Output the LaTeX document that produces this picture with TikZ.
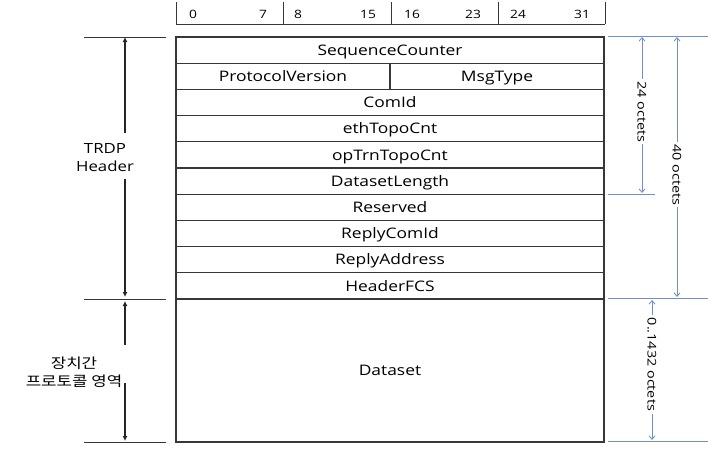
\documentclass[tikz,border=0pt]{standalone}
\usepackage{fontspec}
\setmainfont{Open Sans}[FakeStretch=1.2]
\newfontfamily\kr{Noto Sans CJK KR}[FakeStretch=1.2]
\usetikzlibrary{arrows.meta,positioning}
\definecolor{linegray}{RGB}{55,55,55}
\definecolor{dimblue}{RGB}{115,145,190}

\tikzset{
  field/.style={draw=linegray, line width=1.1pt, minimum width=428pt, minimum height=26.2pt,
    inner sep=0pt, outer sep=0pt, text height=10.5pt, text depth=0pt, font=\fontsize{14.5}{16}\selectfont},
  halffield/.style={field, minimum width=214pt},
  bitnum/.style={font=\fontsize{11.5}{13}\selectfont, inner sep=0pt},
  sidetext/.style={align=center, font=\fontsize{14}{18}\selectfont},
  dimline/.style={draw=linegray, line width=0.9pt},
  dimarrow/.style={draw=black!85, line width=1.1pt, -{Latex[length=5pt,width=5pt]}},
  blueline/.style={draw=dimblue, line width=0.9pt},
  bluearrow/.style={draw=dimblue, line width=0.9pt, {Straight Barb[length=3.5pt,width=6pt]}-{Straight Barb[length=3.5pt,width=6pt]}},
  octets/.style={fill=white, rotate=-90, inner sep=2pt, font=\fontsize{12}{14}\selectfont}
}

\begin{document}
\begin{tikzpicture}[x=1pt, y=-1pt]
		%%%%% START %%%%%
		\useasboundingbox (0, 0) rectangle (712, 450);
		
		% bit ruler
		\draw[dimline] (176, 24) -- (605, 24);
		\foreach \tx in {176, 283, 391, 498, 605}
			\draw[dimline] (\tx, 2) -- (\tx, 24);
		\foreach \tx/\tn in {193/0, 263/7, 298/8, 368/15, 412/16, 473/23, 518/24, 582/31}
			\node[bitnum] (bit\tn) at (\tx, 14) {\tn};
		
		% header fields
		\node[field, anchor=north west] (seqcnt) at (176, 37) {SequenceCounter};
		\node[halffield, anchor=north west] (protover) at (seqcnt.south west) {ProtocolVersion};
		\node[halffield, anchor=north west] (msgtype) at (protover.north east) {MsgType};
		\node[field, below=0pt of seqcnt.south, yshift=-26.2pt] (comid) {ComId};
		\node[field, below=0pt of comid] (ethtopo) {ethTopoCnt};
		\node[field, below=0pt of ethtopo] (optrn) {opTrnTopoCnt};
		\node[field, below=0pt of optrn] (dslen) {DatasetLength};
		\node[field, below=0pt of dslen] (reserved) {Reserved};
		\node[field, below=0pt of reserved] (replycomid) {ReplyComId};
		\node[field, below=0pt of replycomid] (replyaddr) {ReplyAddress};
		\node[field, below=0pt of replyaddr] (hdrfcs) {HeaderFCS};
		\node[field, below=0pt of hdrfcs, minimum height=143pt] (dataset) {Dataset};
		
		% left: TRDP header / protocol area
		\coordinate (hdrtop) at (125, 37);
		\coordinate (hdrbot) at (125, 297);
		\coordinate (dstop) at (125, 301);
		\coordinate (dsbot) at (125, 441);
		\draw[dimline] (84, 37) -- (166, 37);
		\draw[dimline] (84, 299) -- (166, 299);
		\draw[dimline] (84, 442) -- (166, 442);
		\node[sidetext] (trdp) at (105, 158) {TRDP\\Header};
		\node[sidetext, font=\kr\fontsize{14}{18}\selectfont] (devproto) at (74, 372) {장치간\\프로토콜 영역};
		\draw[dimarrow] (125, 133) -- (hdrtop);
		\draw[dimarrow] (125, 179) -- (hdrbot);
		\draw[dimarrow] (125, 345) -- (dstop);
		\draw[dimarrow] (125, 383) -- (dsbot);
		
		% right: octet counts
		\coordinate (oct24top) at (642, 37);
		\coordinate (oct24bot) at (642, 193);
		\coordinate (oct40top) at (677, 37);
		\coordinate (oct40bot) at (677, 297);
		\coordinate (octdstop) at (652, 300);
		\coordinate (octdsbot) at (652, 440);
		\draw[blueline] (608, 36) -- (708, 36);
		\draw[blueline] (608, 194) -- (655, 194);
		\draw[blueline] (608, 298) -- (708, 298);
		\draw[blueline] (608, 441) -- (708, 441);
		\draw[bluearrow] (oct24top) -- node[octets, pos=0.48] (oct24) {24 octets} (oct24bot);
		\draw[bluearrow] (oct40top) -- node[octets, pos=0.53] (oct40) {40 octets} (oct40bot);
		\draw[bluearrow] (octdstop) -- node[octets, pos=0.46, inner sep=3pt] (octds) {0..1432 octets} (octdsbot);
		
		%%%%% END %%%%%
	\end{tikzpicture}
\end{document}
